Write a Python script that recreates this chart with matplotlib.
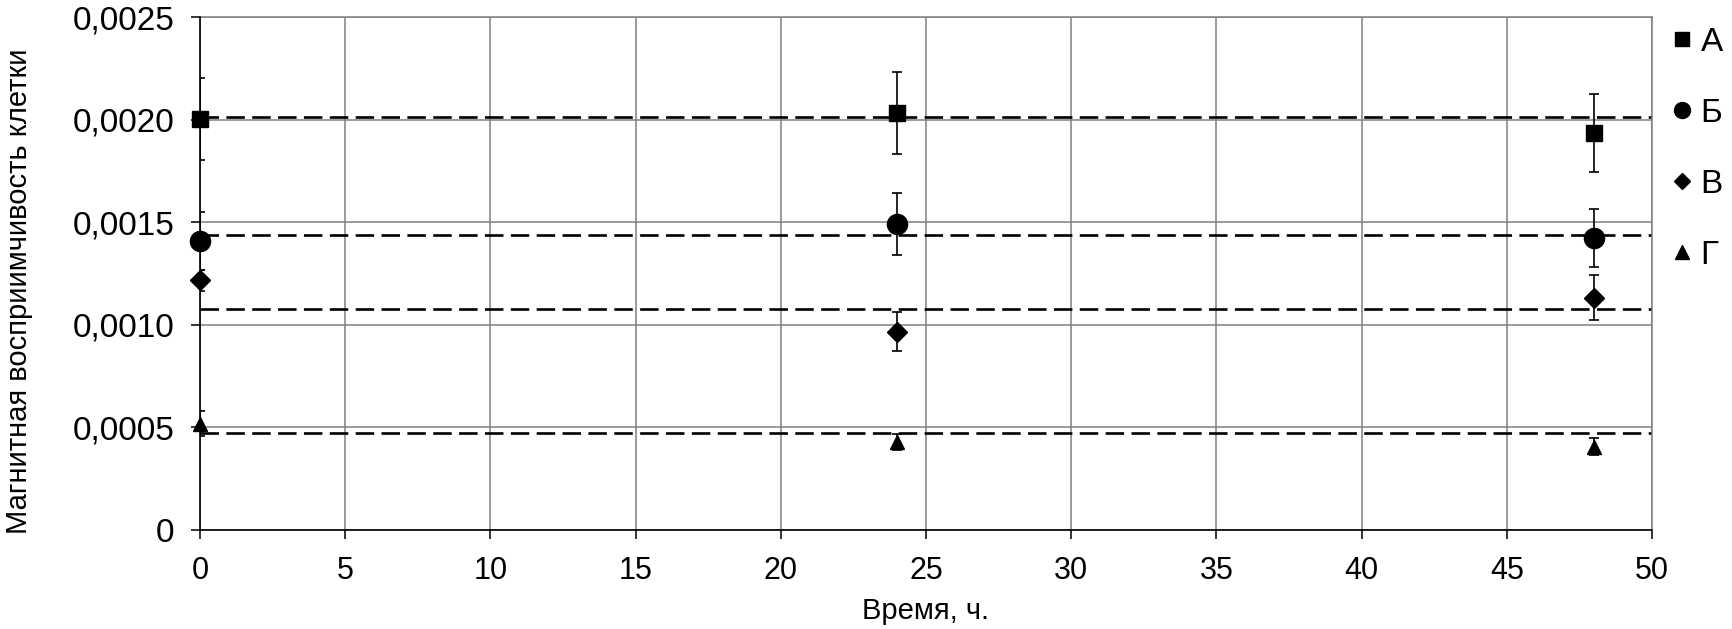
import numpy as np
import matplotlib.pyplot as plt
from matplotlib.lines import Line2D
from matplotlib.ticker import FuncFormatter, MultipleLocator

plt.rcParams['font.family'] = ['Liberation Sans', 'DejaVu Sans']

# data
hours = [0, 24, 48]
groups = ['А', 'Б', 'В', 'Г']

A_mean = [0.002005, 0.002034, 0.001936]
A_err = [0.00020, 0.00020, 0.00019]
B_mean = [0.001408, 0.001490, 0.001423]
B_err = [0.00014, 0.00015, 0.00014]
V_mean = [0.001217, 0.000966, 0.001133]
V_err = [0.00005, 0.000095, 0.00011]
G_mean = [0.000518, 0.000430, 0.000406]
G_err = [0.00006, 0.00004, 0.00004]

# dashed average levels
levels = [0.002012, 0.001440, 0.001079, 0.000474]

means = [A_mean, B_mean, V_mean, G_mean]
errs = [A_err, B_err, V_err, G_err]
markers = ['s', 'o', 'D', '^']
msizes = [11.5, 14.5, 9.7, 10.5]
leg_sizes = [10.0, 11.5, 8.5, 9.5]

fig = plt.figure(figsize=(17.32, 6.29), dpi=100)
ax = fig.add_axes([200/1732, 1 - 530/629, 1452/1732, 513/629])

for lv in levels:
    ax.axhline(lv, color='black', lw=1.9, dashes=(7, 2.8), zorder=2)

for m, e, mk, s in zip(means, errs, markers, msizes):
    ax.errorbar(hours, m, yerr=e, fmt='none', ecolor='black', elinewidth=1.2,
                capsize=3.4, capthick=1.2, zorder=3)
    ax.plot(hours, m, linestyle='none', marker=mk, ms=s, color='black',
            clip_on=False, zorder=4)

ax.set_xlim(0, 50)
ax.set_ylim(0, 0.0025)
ax.xaxis.set_major_locator(MultipleLocator(5))
ax.yaxis.set_major_locator(MultipleLocator(0.0005))
ax.yaxis.set_major_formatter(FuncFormatter(
    lambda v, _: '0' if abs(v) < 1e-12 else f'{v:.4f}'.replace('.', ',')))

ax.grid(True, color='#808080', lw=1.1)
ax.set_axisbelow(True)
for side in ['top', 'right']:
    ax.spines[side].set_color('#808080')
    ax.spines[side].set_linewidth(1.1)
for side in ['left', 'bottom']:
    ax.spines[side].set_color('black')
    ax.spines[side].set_linewidth(1.2)
    ax.spines[side].set_zorder(3.5)

ax.tick_params(direction='out', length=6.5, width=1.1, color='black', pad=12)
ax.tick_params(axis='x', labelsize=22)
ax.tick_params(axis='y', labelsize=24)

ax.set_xlabel('Время, ч.', fontsize=21)
ax.set_ylabel('Магнитная восприимчивость клетки', fontsize=21)
ax.xaxis.set_label_coords(0.5, -0.13)
ax.yaxis.set_label_coords(-0.115, 0.465)

handles = [Line2D([], [], linestyle='none', marker=mk, ms=s, color='black')
           for mk, s in zip(markers, leg_sizes)]
fig.legend(handles, groups, loc='upper left',
           bbox_to_anchor=(1674/1732, 1 - 27/629), frameon=False, fontsize=24,
           handlelength=0.5, handletextpad=0.3, labelspacing=1.2,
           borderaxespad=0, borderpad=0)

fig.savefig('out.png', dpi=100)
